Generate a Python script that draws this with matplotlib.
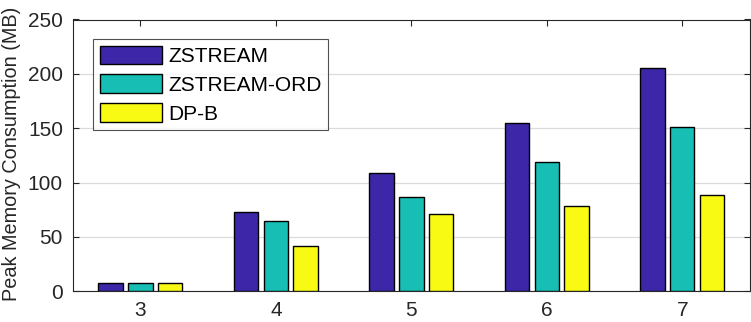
import numpy as np
import matplotlib.pyplot as plt

# datos
Categorias = [3, 4, 5, 6, 7]
Series = ['ZSTREAM', 'ZSTREAM-ORD', 'DP-B']
Zstream = [7.6, 72.5, 108.5, 154.5, 205]
Zstream_ord = [7.5, 64.3, 86.5, 118.5, 150.8]
Dp_b = [7.5, 41.3, 71, 78, 88.5]
Colores = ['#3E26A8', '#17BEB4', '#F9FA14']

plt.rcParams['font.family'] = ['Liberation Sans', 'DejaVu Sans']

fig = plt.figure(figsize=(7.51, 3.22), dpi=100)
ax = fig.add_axes([72.7 / 751, 1 - 291.3 / 322, (750 - 72.7) / 751, (291.3 - 19.5) / 322])

x = np.array(Categorias, dtype=float)
w = 0.18
d = 0.22
for i, (vals, nombre) in enumerate(zip([Zstream, Zstream_ord, Dp_b], Series)):
    ax.bar(x + (i - 1) * d, vals, width=w, color=Colores[i], edgecolor='black',
           linewidth=1.0, label=nombre, zorder=3)

ax.set_xlim(2.5, 7.5)
ax.set_ylim(0, 250)
ax.set_xticks(Categorias)
ax.set_yticks([0, 50, 100, 150, 200, 250])
ax.yaxis.grid(True, color='#dcdcdc', linewidth=0.9, zorder=0)
ax.tick_params(direction='in', top=True, right=True, length=4, width=0.8,
               labelsize=15, colors='#262626', pad=7)
for s in ax.spines.values():
    s.set_color('#262626')
    s.set_linewidth(0.8)

ax.set_ylabel('Peak Memory Consumption (MB)', fontsize=14.3, color='#262626')
ax.yaxis.set_label_coords(-0.077, 0.505)

leg = ax.legend(loc='upper left', bbox_to_anchor=(0.0304, 0.927), fontsize=15,
                frameon=True, fancybox=False, edgecolor='#262626', handlelength=3.0,
                handleheight=1.0, handletextpad=0.3, borderpad=0.3, labelspacing=0.4,
                borderaxespad=0)
leg.get_frame().set_linewidth(0.8)

fig.savefig('out.png', dpi=100)
